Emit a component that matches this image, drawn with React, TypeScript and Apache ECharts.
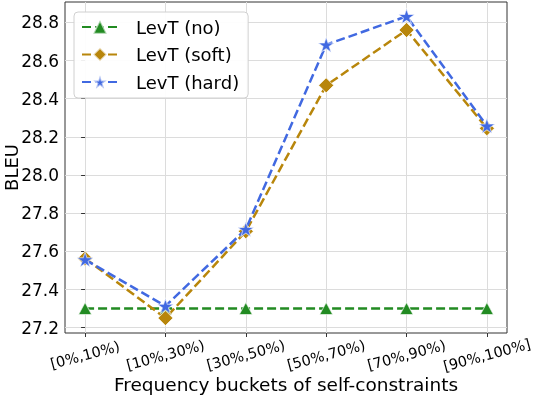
import React, { useEffect, useRef } from "react";
import * as echarts from "echarts";

const categories = ["[0%,10%)", "[10%,30%)", "[30%,50%)", "[50%,70%)", "[70%,90%)", "[90%,100%]"];
const levtNo = [27.3, 27.3, 27.3, 27.3, 27.3, 27.3];
const levtSoft = [27.563, 27.25, 27.705, 28.47, 28.76, 28.245];
const levtHard = [27.557, 27.313, 27.716, 28.683, 28.832, 28.258];
const yTicks = [27.2, 27.4, 27.6, 27.8, 28.0, 28.2, 28.4, 28.6, 28.8];
const xTicks = [0, 1, 2, 3, 4, 5];

const STAR =
  "path://M0,-1L0.2234,-0.3074L0.9511,-0.309L0.3614,0.1174L0.5878,0.809L0,0.38L-0.5878,0.809L-0.3614,0.1174L-0.9511,-0.309L-0.2234,-0.3074Z";

const FONT = "DejaVu Sans";

export default function App() {
  const ref = useRef<HTMLDivElement>(null);
  useEffect(() => {
    if (!ref.current) return;
    const chart = echarts.init(ref.current, undefined, { renderer: "svg" });
    const mk = (vals: number[]) => vals.map((v, i) => [i, v]);
    const dash = { width: 2.5, type: [9, 4] as any };
    chart.setOption({
      animation: false,
      textStyle: { fontFamily: FONT },
      grid: {
        left: 65,
        right: 27,
        top: 2,
        bottom: 63,
        containLabel: false,
        outerBoundsMode: "none",
        show: true,
        borderColor: "#333",
        borderWidth: 1,
        backgroundColor: "transparent",
      },
      legend: {
        left: 74,
        top: 12,
        z: 20,
        orient: "vertical",
        itemWidth: 36,
        itemHeight: 17,
        itemGap: 9.5,
        padding: [6, 9, 7, 7],
        borderColor: "#d0d0d0",
        borderWidth: 1,
        borderRadius: 4,
        backgroundColor: "rgba(255,255,255,0.92)",
        textStyle: { fontFamily: FONT, fontSize: 18, color: "#000", padding: [0, 0, 0, 13] },
        data: ["LevT (no)", "LevT (soft)", "LevT (hard)"],
      },
      xAxis: {
        type: "value",
        min: -0.25,
        max: 5.25,
        axisLine: { show: false },
        splitLine: { show: false },
        axisTick: { show: true, customValues: xTicks, length: 4, lineStyle: { color: "#333" } },
        axisLabel: {
          customValues: xTicks,
          formatter: (v: number) => categories[Math.round(v)] ?? "",
          rotate: 15,
          align: "center",
          verticalAlign: "middle",
          margin: 22,
          fontSize: 14.5,
          fontFamily: FONT,
          color: "#000",
          hideOverlap: false,
        },
        name: "Frequency buckets of self-constraints",
        nameLocation: "middle",
        nameGap: 42,
        nameMoveOverlap: false,
        nameTextStyle: { fontSize: 18.5, fontFamily: FONT, color: "#000", verticalAlign: "top" },
      },
      yAxis: {
        type: "value",
        min: 27.172,
        max: 28.907,
        axisLine: { show: false },
        splitLine: { show: false },
        axisTick: { show: true, customValues: yTicks, length: 4, lineStyle: { color: "#333" } },
        axisLabel: {
          customValues: yTicks,
          formatter: (v: number) => v.toFixed(1),
          margin: 6,
          fontSize: 17,
          fontFamily: FONT,
          color: "#000",
        },
        name: "BLEU",
        nameLocation: "middle",
        nameGap: 45,
        nameMoveOverlap: false,
        nameTextStyle: { fontSize: 18, fontFamily: FONT, color: "#000" },
      },
      series: [
        {
          type: "line",
          name: "_grid",
          data: [],
          z: 0,
          silent: true,
          markLine: {
            silent: true,
            z: 0,
            symbol: "none",
            label: { show: false },
            animation: false,
            lineStyle: { color: "#dcdcdc", width: 1, type: "solid" },
            data: [
              ...xTicks.map((x) => ({ xAxis: x })),
              ...yTicks.map((y) => ({ yAxis: y })),
            ],
          },
        },
        {
          type: "line",
          name: "LevT (no)",
          data: mk(levtNo),
          color: "#228B22",
          lineStyle: { ...dash, color: "#228B22" },
          symbol: "triangle",
          symbolSize: [13, 12],
          itemStyle: { color: "#228B22", borderColor: "rgba(255,255,255,0.6)", borderWidth: 1 },
          z: 3,
        },
        {
          type: "line",
          name: "LevT (soft)",
          data: mk(levtSoft),
          color: "#B8860B",
          lineStyle: { ...dash, color: "#B8860B" },
          symbol: "diamond",
          symbolSize: [15, 15],
          itemStyle: { color: "#B8860B", borderColor: "rgba(255,255,255,0.7)", borderWidth: 1 },
          z: 4,
        },
        {
          type: "line",
          name: "LevT (hard)",
          data: mk(levtHard),
          color: "#4169E1",
          lineStyle: { ...dash, color: "#4169E1" },
          symbol: STAR,
          symbolSize: [16, 15],
          itemStyle: { color: "#4169E1", borderColor: "rgba(255,255,255,0.6)", borderWidth: 1 },
          z: 5,
        },
      ],
    });
    return () => chart.dispose();
  }, []);
  return (
    <div
      ref={ref}
      style={{ width: 534, height: 396, position: "fixed", left: 0, top: 0 }}
    />
  );
}
